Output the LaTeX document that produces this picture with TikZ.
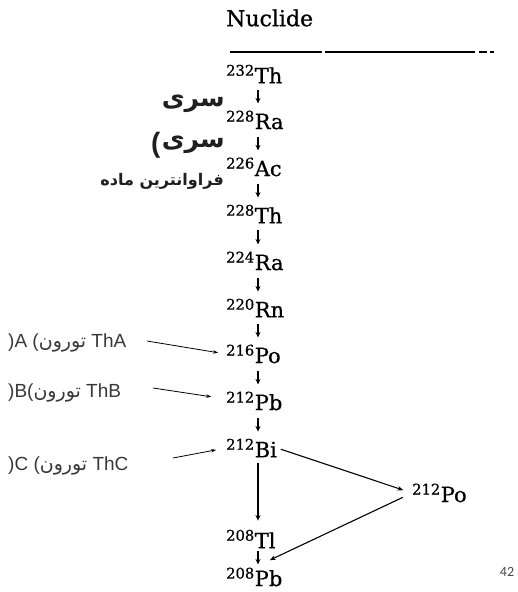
\documentclass[tikz,border=0pt]{standalone}
\usepackage{fontspec}
\setmainfont{DejaVu Serif}
\newfontfamily\scanfont[FakeBold=0.7]{DejaVu Serif}
\newfontfamily\labelfont{Liberation Sans}
\newfontfamily\arfont[Script=Arabic]{DejaVu Sans}
\newfontfamily\pagefont{Carlito}
\TeXXeTstate=1
\usetikzlibrary{arrows.meta}

\tikzset{
  nuc/.style={inner sep=0pt, anchor=west, font=\scanfont\fontsize{21}{25}\selectfont},
  header/.style={inner sep=0pt, anchor=west, font=\scanfont\fontsize{22}{26}\selectfont},
  decay/.style={line width=1.4pt, -{Stealth[length=5.5pt,width=5pt]},
                shorten <=7pt, shorten >=7pt},
  branch/.style={line width=1.1pt, -{Stealth[length=6pt,width=4.5pt]}},
  thlabel/.style={anchor=west, inner sep=0pt, text=black!78,
                  font=\labelfont\fontsize{19}{22}\selectfont},
  pointer/.style={line width=0.8pt, -{Stealth[length=5pt,width=3.5pt]}},
  bigtitle/.style={inner sep=0pt, anchor=east, text=black!88,
                   font=\arfont\bfseries\fontsize{25}{28}\selectfont},
  subtitle/.style={inner sep=0pt, anchor=east, text=black!88,
                   font=\arfont\bfseries\fontsize{16}{18}\selectfont},
}

\begin{document}
\begin{tikzpicture}[x=1pt,y=-1pt]
\useasboundingbox (0,0) rectangle (518,592);

% slide title, left of the decay-chain table
\node[bigtitle] (t1) at (225,104) {\beginR سری\endR};
\node[bigtitle] (t2) at (225,145) {\beginR سری\endR};
\node[bigtitle, font=\labelfont\bfseries\fontsize{28}{30}\selectfont] (t2p) at ([xshift=-1pt]t2.west) {(};
\node[subtitle] (t3) at (224,181) {\beginR فراوانترین ماده\endR};

% table header
\node[header] (head) at (226,18) {Nuclide};
\draw[line width=1.4pt, dash pattern=on 92pt off 3pt on 150pt off 4pt on 8pt off 3pt on 4pt]
  (230,52) -- (497,52);

% column of the main decay chain
\coordinate (colx) at (258,0);
\node[nuc] (th232) at (226,74)  {\textsuperscript{232}Th};
\node[nuc] (ra228) at (226,120) {\textsuperscript{228}Ra};
\node[nuc] (ac226) at (226,167) {\textsuperscript{226}Ac};
\node[nuc] (th228) at (226,214) {\textsuperscript{228}Th};
\node[nuc] (ra224) at (226,261) {\textsuperscript{224}Ra};
\node[nuc] (rn220) at (226,308) {\textsuperscript{220}Rn};
\node[nuc] (po216) at (226,354) {\textsuperscript{216}Po};
\node[nuc] (pb212) at (226,401) {\textsuperscript{212}Pb};
\node[nuc] (bi212) at (226,448) {\textsuperscript{212}Bi};
\node[nuc] (po212) at (412,493) {\textsuperscript{212}Po};
\node[nuc] (tl208) at (226,539) {\textsuperscript{208}Tl};
\node[nuc] (pb208) at (226,577) {\textsuperscript{208}Pb};

\foreach \a/\b in {th232/ra228, ra228/ac226, ac226/th228, th228/ra224,
                   ra224/rn220, rn220/po216, po216/pb212, pb212/bi212}
  \draw[decay] (\a.south -| colx) -- (\b.north -| colx);
\draw[decay, shorten <=6pt, shorten >=9pt] (bi212.south -| colx) -- (tl208.north -| colx);
\draw[decay, shorten <=3pt, shorten >=3pt] (tl208.south -| colx) -- (pb208.north -| colx);

% branching of 212Bi
\draw[branch, shorten <=4pt, shorten >=9pt] (bi212.east) -- (po212.west);
\draw[branch, shorten <=10pt, shorten >=17pt] (po212.west) -- (pb208.north);

% thorium A, B, C labels
\node[thlabel] (la) at (8,343) {)A ({\arfont\beginR تورون\endR} ThA};
\node[thlabel] (lb) at (8,393) {)B({\arfont\beginR تورون\endR} ThB};
\node[thlabel] (lc) at (8,466) {)C ({\arfont\beginR تورون\endR} ThC};
\coordinate (ta) at (147,341);
\coordinate (tb) at (153,388);
\coordinate (tc) at (173,458);
\draw[pointer, shorten >=8pt] (ta) -- (po216.west);
\draw[pointer, shorten >=15pt] (tb) -- ([yshift=2pt]pb212.west);
\draw[pointer, shorten >=10pt] (tc) -- (bi212.west);

% page number
\node[inner sep=0pt, text=black!72, font=\pagefont\fontsize{14}{16}\selectfont] (pg) at (507,572) {42};
\end{tikzpicture}
\end{document}
